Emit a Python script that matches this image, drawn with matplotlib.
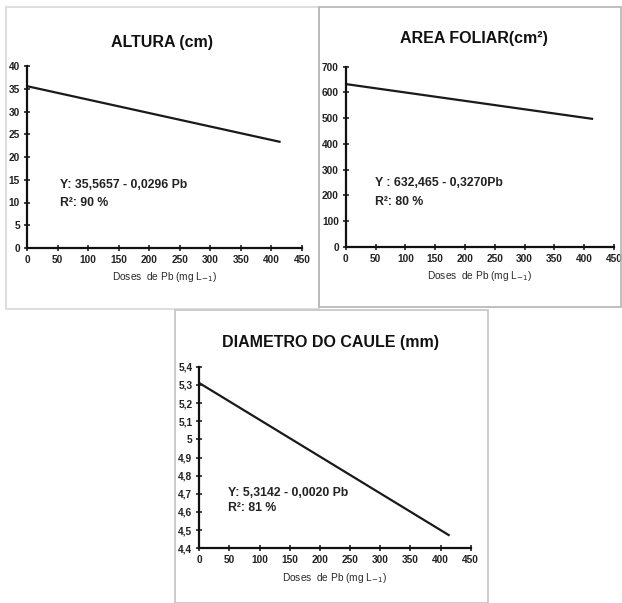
import matplotlib
matplotlib.use('Agg')
import matplotlib.pyplot as plt
from matplotlib.patches import Rectangle
from matplotlib.ticker import FixedLocator, FuncFormatter

plt.rcParams['font.family'] = ['Liberation Sans', 'DejaVu Sans']

# doses de Pb (mg L-1), extremos das retas
doses = [0, 415]

altura = [35.57, 23.3]
area_foliar = [632.5, 496.8]
diametro = [5.31, 4.47]

x_ticks = [0, 50, 100, 150, 200, 250, 300, 350, 400, 450]
altura_ticks = [0, 5, 10, 15, 20, 25, 30, 35, 40]
area_ticks = [0, 100, 200, 300, 400, 500, 600, 700]
diametro_ticks = [4.4, 4.5, 4.6, 4.7, 4.8, 4.9, 5.0, 5.1, 5.2, 5.3, 5.4]

titles = ['ALTURA (cm)', 'AREA FOLIAR(cm²)', 'DIAMETRO DO CAULE (mm)']
equations = ['Y: 35,5657 - 0,0296 Pb', 'Y : 632,465 - 0,3270Pb', 'Y: 5,3142 - 0,0020 Pb']
r2_labels = ['R²: 90 %', 'R²: 80 %', 'R²: 81 %']
xlabel = 'Doses  de Pb (mg L$_{-1}$)'

W, H = 622, 603


def px_rect(x0, y0, x1, y1):
    # pixel box (top-left origin) -> figure fraction
    return [x0 / W, 1 - y1 / H, (x1 - x0) / W, (y1 - y0) / H]


def comma(v, pos):
    s = '{:g}'.format(round(v, 2))
    return s.replace('.', ',')


fig = plt.figure(figsize=(W / 100, H / 100), dpi=100)
fig.patch.set_facecolor('white')

# molduras dos paineis
frames = [((6, 7, 319, 309), '#d8d8d8'),
          ((319, 7, 621, 307), '#b4b4b4'),
          ((175, 310, 488, 603), '#c4c4c4')]
for (x0, y0, x1, y1), col in frames:
    r = px_rect(x0, y0, x1, y1)
    fig.add_artist(Rectangle((r[0], r[1]), r[2], r[3], transform=fig.transFigure,
                             fill=False, edgecolor=col, linewidth=1.2))

panels = [
    (px_rect(27, 66, 302, 248), altura, altura_ticks, (0, 40), (0.12, 0.346, 0.247), 162, 42),
    (px_rect(345.7, 66.7, 614, 246.7), area_foliar, area_ticks, (0, 700), (0.109, 0.354, 0.248), 474, 38),
    (px_rect(199.3, 366.7, 470.7, 548.3), diametro, diametro_ticks, (4.4, 5.4), (0.106, 0.306, 0.222), 330, 343),
]

for i, (rect, ydata, yt, ylim, eqpos, tx, ty) in enumerate(panels):
    ax = fig.add_axes(rect)
    ax.plot(doses, ydata, color='#1a1a1a', linewidth=1.6, solid_capstyle='butt')
    ax.set_xlim(0, 450)
    ax.set_ylim(*ylim)
    ax.xaxis.set_major_locator(FixedLocator(x_ticks))
    ax.yaxis.set_major_locator(FixedLocator(yt))
    ax.yaxis.set_major_formatter(FuncFormatter(comma))
    for s in ['top', 'right']:
        ax.spines[s].set_visible(False)
    for s in ['left', 'bottom']:
        ax.spines[s].set_linewidth(1.6)
        ax.spines[s].set_color('#111111')
    ax.tick_params(direction='inout', length=4, width=1.2, labelsize=7.3,
                   colors='#222222', pad=3)
    for lab in ax.get_xticklabels() + ax.get_yticklabels():
        lab.set_fontweight('bold')
    ax.set_xlabel(xlabel, fontsize=7.3, color='#2a2a2a', labelpad=4)
    ax.text(eqpos[0], eqpos[1], equations[i], transform=ax.transAxes,
            fontsize=8.8, fontweight='bold', color='#222222', va='center', ha='left')
    ax.text(eqpos[0], eqpos[2], r2_labels[i], transform=ax.transAxes,
            fontsize=8.8, fontweight='bold', color='#222222', va='center', ha='left')
    fig.text(tx / W, 1 - ty / H, titles[i], fontsize=11.5, fontweight='bold',
             ha='center', va='center', color='#111111')

fig.savefig('out.png', dpi=100, facecolor='white')
